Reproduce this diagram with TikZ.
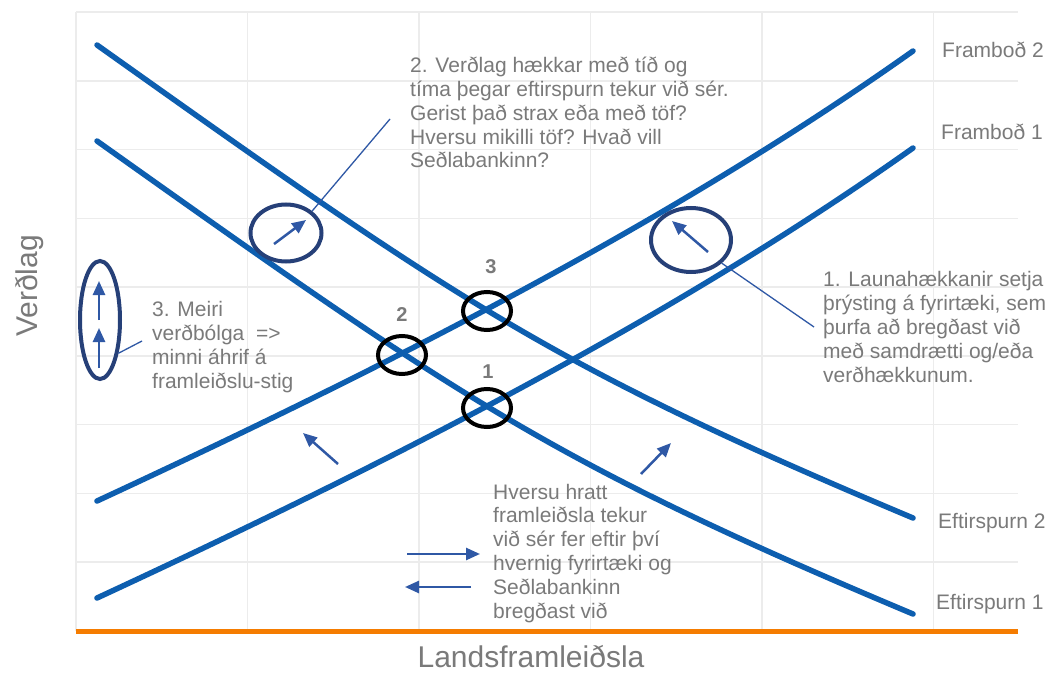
\documentclass[tikz,border=0pt]{standalone}
\usepackage{fontspec}
\setmainfont{Liberation Sans}
\usetikzlibrary{arrows.meta,shapes.geometric}

\definecolor{curveblue}{RGB}{13,94,175}
\definecolor{gridgray}{RGB}{236,236,236}
\definecolor{ringnavy}{RGB}{38,64,120}
\definecolor{arrowblue}{RGB}{47,88,165}
\definecolor{textgray}{RGB}{122,122,122}
\definecolor{axisorange}{RGB}{245,124,0}

\tikzset{
  gridline/.style={draw=gridgray, line width=1.5bp},
  curve/.style={draw=curveblue, line width=5.5bp, line cap=round},
  ring/.style={draw=ringnavy, line width=4bp, shape=ellipse, inner sep=0pt},
  eqring/.style={draw=black, line width=4bp, shape=ellipse, inner sep=0pt,
                 minimum width=48bp, minimum height=38bp},
  shiftarrow/.style={draw=arrowblue, line width=2.5bp,
                     -{Triangle[length=14bp,width=12bp]}},
  leader/.style={draw=arrowblue, line width=1.3bp},
  % multi-line notes are placed by the baseline of their last line
  note/.style={anchor=base west, inner sep=0pt, align=left, text=textgray,
               font=\fontsize{21bp}{23.8bp}\selectfont},
  eqnum/.style={inner sep=0pt, text=textgray,
                font=\fontsize{20bp}{24bp}\selectfont\bfseries},
  axistitle/.style={inner sep=0pt, text=textgray,
                    font=\fontsize{30bp}{34bp}\selectfont}
}

\begin{document}
\begin{tikzpicture}[x=1bp,y=-1bp]
\useasboundingbox (0,0) rectangle (1051,673);
\fill[white] (0,0) rectangle (1051,673);

% grid
\foreach \gx in {76,247.5,419,590.5,762,933.5}
  \draw[gridline] (\gx,12) -- (\gx,631);
\foreach \k in {0,...,8}
  \draw[gridline] (76,12+68.78*\k) -- (1018,12+68.78*\k);

% horizontal axis
\draw[draw=axisorange, line width=5bp] (76,631) -- (1018,631);

% demand curves
\draw[curve] (97,45) .. controls (460,303) and (550,365.5) .. (913,518);
\draw[curve] (97,141) .. controls (460,399) and (550,461.5) .. (913,614);

% supply curves
\draw[curve] (97,598) .. controls (352,479.7) and (658,329) .. (913,148);
\draw[curve] (97,501) .. controls (352,382.7) and (658,232) .. (913,51);

% curve labels
\node[note] (s2) at (942,58) {Framboð 2};
\node[note] (s1) at (941,140) {Framboð 1};
\node[note] (d2) at (938,528) {Eftirspurn 2};
\node[note] (d1) at (936,609) {Eftirspurn 1};

% equilibrium rings and numbers
\node[eqring] (eq3) at (487,311) {};
\node[eqring] (eq2) at (402,355) {};
\node[eqring] (eq1) at (487,408) {};
\node[eqnum] (n3) at (491,267) {3};
\node[eqnum] (n2) at (402,315) {2};
\node[eqnum] (n1) at (488,372) {1};

% highlighted shifts
\node[ring, minimum width=71bp, minimum height=57bp] (ringD) at (286,233) {};
\node[ring, minimum width=80bp, minimum height=64bp] (ringS) at (691,240) {};
\node[ring, minimum width=40bp, minimum height=118bp] (ringP) at (100,320) {};

\draw[shiftarrow] (274,244) -- (306,220);
\draw[shiftarrow] (708,252) -- (672,221);
\draw[shiftarrow] (99,320) -- (99,281);
\draw[shiftarrow] (99,368) -- (99,328);
\draw[shiftarrow] (338,464) -- (303,433);
\draw[shiftarrow] (641,474) -- (671,443);
\draw[shiftarrow] (407,554) -- (480,554);
\draw[shiftarrow] (471,587) -- (405,587);

% callouts
\coordinate (c2) at (390,119);
\coordinate (c1) at (814,327);
\coordinate (c3) at (142,341);
\draw[leader] (ringD.40) -- (c2);
\draw[leader] (ringS.-37) -- (c1);
\draw[leader] (ringP.-61) -- (c3);

\node[note] (t2) at (410,168) {2. Verðlag hækkar með tíð og\\tíma þegar eftirspurn tekur við sér.\\Gerist það strax eða með töf?\\Hversu mikilli töf? Hvað vill\\Seðlabankinn?};
\node[note] (t1) at (823,382) {1. Launahækkanir setja\\þrýsting á fyrirtæki, sem\\þurfa að bregðast við\\með samdrætti og/eða\\verðhækkunum.};
\node[note] (t3) at (152,388) {3. Meiri\\verðbólga\ \ =>\\minni áhrif á\\framleiðslu-stig};
\node[note] (t4) at (493,618) {Hversu hratt\\framleiðsla tekur\\við sér fer eftir því\\hvernig fyrirtæki og\\Seðlabankinn\\bregðast við};

% axis titles
\node[axistitle, rotate=90, anchor=base] (ylab) at (37,286) {Verðlag};
\node[axistitle, anchor=base] (xlab) at (531,667) {Landsframleiðsla};
\end{tikzpicture}
\end{document}
